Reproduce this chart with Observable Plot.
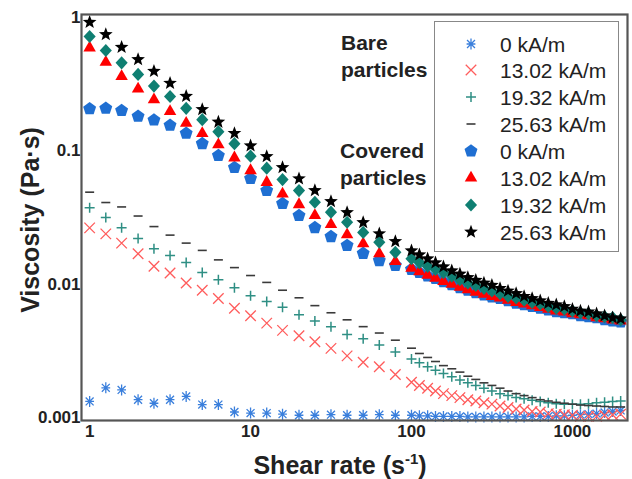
<!DOCTYPE html>
<html><head><meta charset="utf-8">
<script src="https://cdn.jsdelivr.net/npm/d3@7"></script>
<script src="https://cdn.jsdelivr.net/npm/@observablehq/plot@0.6"></script>
<style>
body{margin:0;background:#fff;}
#wrap{position:relative;width:632px;height:479px;font-family:"Liberation Sans",Arial,sans-serif;color:#222;}
#wrap svg.plot{position:absolute;left:0;top:0;}
.ytitle{position:absolute;left:30px;top:220px;transform:translate(-50%,-50%) rotate(-90deg);white-space:nowrap;font-weight:bold;font-size:25px;color:#222;}
.xtitle{position:absolute;left:340px;top:465px;transform:translate(-50%,-50%);white-space:nowrap;font-weight:bold;font-size:25px;color:#222;}
.xtitle sup{font-size:0.6em;}
.note{position:absolute;font-weight:bold;font-size:21px;line-height:27px;color:#222;white-space:nowrap;}
.legend{position:absolute;left:434px;top:21px;width:185px;height:231px;border:1.5px solid #888;box-sizing:border-box;background:#fff;}
.legend .row{position:absolute;left:0;height:27px;width:100%;}
.legend .row svg{position:absolute;left:26px;top:3px;}
.legend .row span{position:absolute;left:65px;top:0;line-height:27px;font-size:21px;color:#222;white-space:nowrap;}
</style></head><body><div id="wrap"></div>
<script>
// Shear rate (1/s)
const shearRate = [1,1.26,1.58,2,2.51,3.16,3.98,5.01,6.31,7.94,10,12.6,15.8,20,25.1,31.6,39.8,50.1,63.1,79.4,
  100,112,126,141,158,178,200,224,251,282,316,355,398,447,501,562,631,708,794,891,1000,1122,1259,1413,1585,1778,1995];

// Bare particles
const bare0 = [0.00132,0.00167,0.00161,0.00136,0.00128,0.00136,0.00144,0.00125,0.00125,0.00110,0.00108,0.00108,0.00106,0.00104,0.00104,0.00105,0.00104,0.00104,0.00105,0.00104,
  0.00104,0.00103,0.00103,0.00102,0.00102,0.00102,0.00102,0.00101,0.00101,0.00101,0.00101,0.00101,0.00101,0.00101,0.00101,0.00102,0.00102,0.00102,0.00103,0.00103,0.00104,0.00105,0.00106,0.00107,0.00109,0.00111,0.00113];
const bare1302 = [0.0264,0.0238,0.0203,0.0169,0.0136,0.0121,0.0102,0.0090,0.0078,0.0066,0.0058,0.0051,0.0045,0.0041,0.0037,0.0033,0.0029,0.0026,0.0024,0.0021,
  0.00184,0.00174,0.00166,0.00158,0.00151,0.00146,0.00141,0.00136,0.00133,0.00129,0.00126,0.00122,0.00119,0.00116,0.00114,0.00111,0.00110,0.00107,0.00106,0.00105,0.00104,0.00102,0.00102,0.00102,0.00104,0.00105,0.00106];
const bare1932 = [0.0373,0.0316,0.0265,0.0220,0.0184,0.0164,0.0145,0.0122,0.0108,0.0094,0.0082,0.0074,0.0067,0.0059,0.0053,0.0048,0.0042,0.0039,0.0035,0.0031,
  0.00275,0.00257,0.00240,0.00226,0.00214,0.00202,0.00191,0.00182,0.00174,0.00166,0.00158,0.00151,0.00146,0.00141,0.00138,0.00135,0.00132,0.00129,0.00127,0.00126,0.00126,0.00126,0.00127,0.00129,0.00130,0.00132,0.00133];
const bare2563 = [0.0489,0.0409,0.0379,0.0324,0.0270,0.0233,0.0203,0.0179,0.0152,0.0133,0.0116,0.0103,0.0090,0.0079,0.0069,0.0061,0.0054,0.0048,0.0043,0.0038,
  0.00331,0.00302,0.00282,0.00263,0.00245,0.00232,0.00219,0.00204,0.00193,0.00182,0.00174,0.00166,0.00158,0.00151,0.00146,0.00141,0.00136,0.00133,0.00130,0.00128,0.00126,0.00124,0.00123,0.00122,0.00121,0.00120,0.00120];

// Covered particles
const cov0 = [0.206,0.208,0.200,0.181,0.170,0.155,0.135,0.113,0.092,0.0748,0.0619,0.0503,0.0402,0.0327,0.0265,0.0227,0.0195,0.0170,0.0150,0.0138,
  0.0129,0.0122,0.0115,0.0110,0.0104,0.0099,0.0094,0.0090,0.0086,0.0083,0.0080,0.0078,0.0075,0.0072,0.0070,0.0068,0.0066,0.0064,0.0062,0.0061,0.0060,0.0058,0.0057,0.0056,0.0054,0.0053,0.0052];
const cov1302 = [0.591,0.461,0.360,0.291,0.241,0.197,0.161,0.135,0.111,0.0885,0.0710,0.0580,0.0475,0.0395,0.0327,0.0280,0.0235,0.0201,0.0169,0.0148,
  0.0132,0.0124,0.0117,0.0111,0.0105,0.0100,0.0095,0.0091,0.0087,0.0084,0.0081,0.0079,0.0076,0.0073,0.0071,0.0069,0.0067,0.0065,0.0063,0.0062,0.0060,0.0059,0.0058,0.0056,0.0055,0.0054,0.0053];
const cov1932 = [0.718,0.564,0.456,0.373,0.305,0.255,0.208,0.171,0.139,0.113,0.091,0.074,0.0608,0.0503,0.0411,0.0346,0.0291,0.0244,0.0206,0.0173,
  0.0155,0.0145,0.0136,0.0129,0.0122,0.0115,0.0108,0.0102,0.0098,0.0093,0.0089,0.0085,0.0081,0.0079,0.0076,0.0073,0.0071,0.0068,0.0066,0.0065,0.0063,0.0061,0.0060,0.0058,0.0057,0.0056,0.0054];
const cov2563 = [0.919,0.743,0.597,0.483,0.394,0.321,0.256,0.204,0.164,0.135,0.109,0.0905,0.0748,0.0618,0.0503,0.0416,0.0344,0.0290,0.0239,0.0209,
  0.0178,0.0166,0.0155,0.0145,0.0135,0.0126,0.0119,0.0112,0.0107,0.0102,0.0098,0.0093,0.0089,0.0085,0.0081,0.0078,0.0075,0.0072,0.0070,0.0068,0.0065,0.0063,0.0062,0.0060,0.0058,0.0056,0.0055];

const seriesLabels = ["0 kA/m","13.02 kA/m","19.32 kA/m","25.63 kA/m"];
const xTicks = [1,10,100,1000];
const yTicks = [0.001,0.01,0.1,1];

// custom symbols (size = pi*r^2)
const rad = s => Math.sqrt(s/Math.PI);
const symPentagon = {draw(c,s){const R=rad(s);for(let i=0;i<5;i++){const a=-Math.PI/2+i*2*Math.PI/5;const x=R*Math.cos(a),y=R*Math.sin(a);i?c.lineTo(x,y):c.moveTo(x,y);}c.closePath();}};
const symTriangle = {draw(c,s){const R=rad(s);c.moveTo(0,-R);c.lineTo(R*0.866,R*0.5);c.lineTo(-R*0.866,R*0.5);c.closePath();}};
const symDiamond = {draw(c,s){const R=rad(s);c.moveTo(0,-R);c.lineTo(R*0.92,0);c.lineTo(0,R);c.lineTo(-R*0.92,0);c.closePath();}};
const symStar = {draw(c,s){const R=rad(s),r=R*0.42;for(let i=0;i<10;i++){const a=-Math.PI/2+i*Math.PI/5;const q=i%2?r:R;const x=q*Math.cos(a),y=q*Math.sin(a);i?c.lineTo(x,y):c.moveTo(x,y);}c.closePath();}};
const symAsterisk = {draw(c,s){const R=rad(s),d=R*0.72;c.moveTo(0,-R);c.lineTo(0,R);c.moveTo(-d,-d);c.lineTo(d,d);c.moveTo(-d,d);c.lineTo(d,-d);c.moveTo(-R*0.8,0);c.lineTo(R*0.8,0);}};
const symTimes = {draw(c,s){const R=rad(s),d=R*0.75;c.moveTo(-d,-d);c.lineTo(d,d);c.moveTo(-d,d);c.lineTo(d,-d);}};
const symPlus = {draw(c,s){const R=rad(s);c.moveTo(0,-R);c.lineTo(0,R);c.moveTo(-R,0);c.lineTo(R,0);}};
const symDash = {draw(c,s){const R=rad(s);c.moveTo(-R,0);c.lineTo(R,0);}};

const defs = [
  {group:"bare", label:seriesLabels[0], values:bare0, sym:symAsterisk, color:"#3a7fdc", stroke:true, r:5.5, sw:1.3},
  {group:"bare", label:seriesLabels[1], values:bare1302, sym:symTimes, color:"#ff5c5c", stroke:true, r:7, sw:1.3},
  {group:"bare", label:seriesLabels[2], values:bare1932, sym:symPlus, color:"#2f8f84", stroke:true, r:5, sw:1.5},
  {group:"bare", label:seriesLabels[3], values:bare2563, sym:symDash, color:"#3a3a3a", stroke:true, r:4.5, sw:1.6},
  {group:"cov", label:seriesLabels[0], values:cov0, sym:symPentagon, color:"#1f6fd2", stroke:false, r:6.8},
  {group:"cov", label:seriesLabels[1], values:cov1302, sym:symTriangle, color:"#ff0000", stroke:false, r:7.2},
  {group:"cov", label:seriesLabels[2], values:cov1932, sym:symDiamond, color:"#0f7f72", stroke:false, r:6.6},
  {group:"cov", label:seriesLabels[3], values:cov2563, sym:symStar, color:"#000000", stroke:false, r:7.2}
];

const dotMarks = defs.map(d => {
  const data = shearRate.map((x,i) => ({x, y:d.values[i]}));
  return d.stroke
    ? Plot.dot(data, {x:"x", y:"y", symbol:d.sym, r:d.r, fill:"none", stroke:d.color, strokeWidth:d.sw})
    : Plot.dot(data, {x:"x", y:"y", symbol:d.sym, r:d.r, fill:d.color, stroke:"none"});
});

const plot = Plot.plot({
  width:632, height:479,
  marginTop:14, marginBottom:59, marginLeft:81, marginRight:5,
  style:{fontFamily:"'Liberation Sans', Arial, sans-serif", fontWeight:"bold", color:"#222", background:"#fff"},
  x:{type:"log", domain:[0.89,2200]},
  y:{type:"log", domain:[0.00095,1.05]},
  marks:[
    ...dotMarks,
    Plot.axisX({ticks:xTicks, tickFormat:d=>String(d), tickSize:0, tickPadding:4, fontSize:17, fontWeight:"bold", label:null}),
    Plot.axisY({ticks:yTicks, tickFormat:d=>String(d), tickSize:0, tickPadding:1, fontSize:17, fontWeight:"bold", label:null}),
    Plot.frame({stroke:"#555", strokeWidth:2.2})
  ]
});
plot.classList.add("plot");
const wrap = document.getElementById("wrap");
wrap.appendChild(plot);

function addDiv(cls, html, style){const e=document.createElement("div");e.className=cls;e.innerHTML=html;if(style)Object.assign(e.style,style);wrap.appendChild(e);return e;}
addDiv("ytitle","Viscosity (Pa·s)");
addDiv("xtitle","Shear rate (s<sup>-1</sup>)");
addDiv("note","Bare<br>particles",{left:"341px",top:"29px"});
addDiv("note","Covered<br>particles",{left:"340px",top:"137px"});

const legend = addDiv("legend","");
defs.forEach((d,i) => {
  const row = document.createElement("div");
  row.className="row";
  row.style.top = (8.5 + 26.9*i) + "px";
  const size = Math.PI*d.r*d.r;
  const path = d3.symbol(d.sym, size)();
  const attrs = d.stroke ? `fill="none" stroke="${d.color}" stroke-width="${d.sw}"` : `fill="${d.color}"`;
  row.innerHTML = `<svg width="20" height="20" viewBox="-10 -10 20 20"><path d="${path}" ${attrs}/></svg><span>${d.label}</span>`;
  legend.appendChild(row);
});
</script></body></html>
